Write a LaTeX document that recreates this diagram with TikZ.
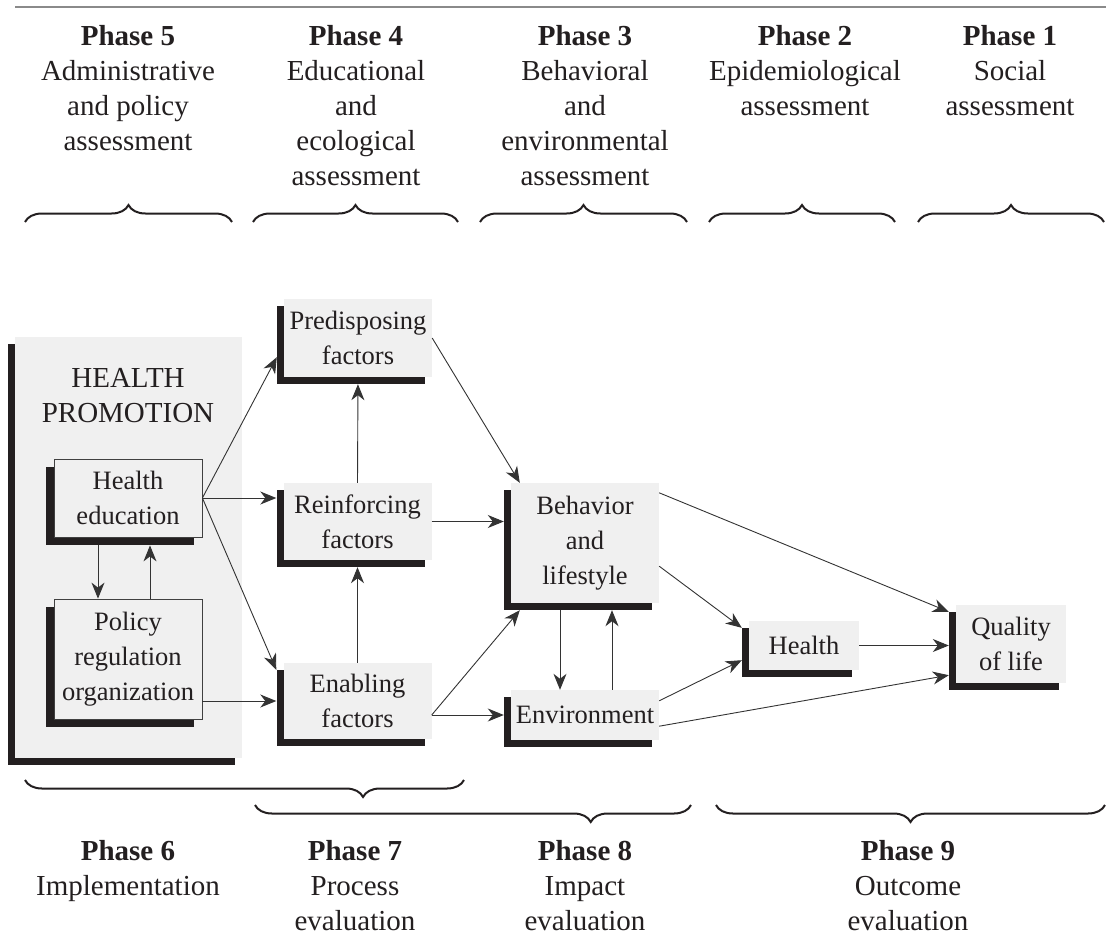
\documentclass[tikz,border=0pt]{standalone}
\usepackage{fontspec}
\setmainfont{Liberation Serif}
\usetikzlibrary{arrows.meta,shadows,decorations.pathreplacing}
\definecolor{boxgray}{HTML}{F0F0F0}
\definecolor{barblack}{HTML}{231F20}
\definecolor{rulegray}{HTML}{8A8A8A}
\newcommand{\headsize}{\fontsize{29}{35}\selectfont}
\newcommand{\boxsize}{\fontsize{26.5}{35}\selectfont}

\begin{document}
\begin{tikzpicture}[x=1pt, y=-1pt,
        box/.style={fill=boxgray, inner sep=0pt, minimum width=148pt, align=center,
            font=\boxsize, text=barblack,
            drop shadow={opacity=1, fill=barblack, shadow xshift=-#1, shadow yshift=-#1}},
        box/.default=7pt,
        phase/.style={anchor=north, inner sep=0pt, align=center, font=\headsize, text=barblack},
        link/.style={-{Stealth[length=16pt, width=13pt, inset=5pt]}, draw=black!80, line width=0.9pt},
        curly/.style={decorate, decoration={brace, amplitude=17pt}, line width=2pt, draw=barblack}]
        \useasboundingbox (0,0) rectangle (1106,943);

        \draw[rulegray, line width=1.5pt] (15,7) -- (1106,7);

        % planning phases
        \node[phase] (ph5) at (128,25) {\textbf{Phase 5}\\Administrative\\and policy\\assessment};
        \node[phase] (ph4) at (356,25) {\textbf{Phase 4}\\Educational\\and\\ecological\\assessment};
        \node[phase] (ph3) at (585,25) {\textbf{Phase 3}\\Behavioral\\and\\environmental\\assessment};
        \node[phase] (ph2) at (805,25) {\textbf{Phase 2}\\Epidemiological\\assessment};
        \node[phase] (ph1) at (1010,25) {\textbf{Phase 1}\\Social\\assessment};

        \draw[curly] (25,222) -- (232,222);
        \draw[curly] (253,222) -- (458,222);
        \draw[curly] (480,222) -- (687,222);
        \draw[curly] (709,222) -- (895,222);
        \draw[curly] (918,222) -- (1104,222);

        % health promotion panel
        \node[box, minimum width=227pt, minimum height=421pt] (hp) at (128.5,547.5) {};
        \node[phase] (hptext) at (128,368) {HEALTH\\PROMOTION};
        \node[box=8pt, draw=black!75, line width=0.8pt, minimum height=78pt] (hed) at (128,498) {Health\\education};
        \node[box=8pt, draw=black!75, line width=0.8pt, minimum height=120pt] (pol) at (128,659) {Policy\\regulation\\organization};

        % factors
        \node[box, minimum height=78pt] (pre) at (358,338) {Predisposing\\factors};
        \node[box, minimum height=77pt] (rei) at (357.5,521.5) {Reinforcing\\factors};
        \node[box, minimum height=76pt] (ena) at (357.5,701) {Enabling\\factors};

        \node[box, minimum height=120pt] (beh) at (585,543) {Behavior\\and\\lifestyle};
        \node[box, minimum height=50pt] (env) at (585,715) {Environment};
        \node[box, minimum width=110pt, minimum height=49pt] (hea) at (804,645.5) {Health};
        \node[box, minimum width=110pt, minimum height=78pt] (qol) at (1011,644) {Quality\\of life};

        \draw[link] (hed.east) -- ([shift={(-7,-20)}]pre.south west);
        \draw[link, shorten >=7pt] (hed.east) -- (hed.east -| rei.west);
        \draw[link] (hed.east) -- ([shift={(-7,7)}]ena.north west);
        \draw[link] ([shift={(-30,8)}]hed.south) -- ([shift={(-30,0)}]pol.north);
        \draw[link] ([shift={(22,0)}]pol.north) -- ([shift={(22,8)}]hed.south);
        \draw[link, shorten >=7pt] (pol.east |- ena.west) -- (ena.west);

        \draw[link, shorten >=7pt] (ena.north) -- (rei.south);
        \draw[link, shorten >=7pt] (rei.north) -- (pre.south);
        \draw[link] (pre.east) -- ([shift={(9,0)}]beh.north west);
        \draw[link, shorten >=7pt] (rei.east) -- (rei.east -| beh.west);
        \draw[link] (ena.east |- env.west) -- ([shift={(9,7)}]beh.south west);
        \draw[link, shorten >=7pt] (ena.east |- env.west) -- (env.west);

        \draw[link] ([shift={(-25,7)}]beh.south) -- ([shift={(-25,0)}]env.north);
        \draw[link, shorten >=7pt] ([shift={(27,0)}]env.north) -- ([shift={(27,0)}]beh.south);
        \draw[link] ([shift={(0,10)}]beh.north east) -- ([shift={(-7,7)}]qol.north west);
        \draw[link] ([shift={(0,-37)}]beh.south east) -- ([shift={(-7,7)}]hea.north west);
        \draw[link, shorten >=7pt] (hea.east) -- (hea.east -| qol.west);
        \draw[link] ([shift={(0,11)}]env.north east) -- ([shift={(-7,-10)}]hea.south west);
        \draw[link] ([shift={(0,-14)}]env.south east) -- ([shift={(-7,-8)}]qol.south west);

        % evaluation phases
        \draw[curly, decoration={mirror, aspect=0.77}] (25,780) -- (464,780);
        \draw[curly, decoration={mirror, aspect=0.77}] (255,805) -- (691,805);
        \draw[curly, decoration={mirror}] (716,805) -- (1105,805);

        \node[phase] (ph6) at (128,840) {\textbf{Phase 6}\\Implementation};
        \node[phase] (ph7) at (355,840) {\textbf{Phase 7}\\Process\\evaluation};
        \node[phase] (ph8) at (585,840) {\textbf{Phase 8}\\Impact\\evaluation};
        \node[phase] (ph9) at (908,840) {\textbf{Phase 9}\\Outcome\\evaluation};
\end{tikzpicture}
\end{document}
